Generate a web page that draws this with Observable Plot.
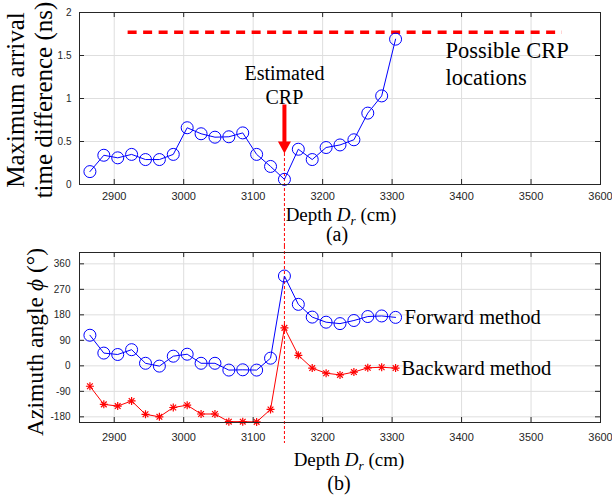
<!DOCTYPE html>
<html>
<head>
<meta charset="utf-8">
<script src="https://cdn.jsdelivr.net/npm/d3@7"></script>
<script src="https://cdn.jsdelivr.net/npm/@observablehq/plot@0.6"></script>
<style>
  body { margin: 0; background: #fff; }
  #chart { position: relative; width: 612px; height: 498px; background: #fff; }
  #chart svg { display: block; overflow: visible; }
</style>
</head>
<body>
<div id="chart"></div>
<script>
// ---------- data ----------
const depth = [2865, 2885, 2905, 2925, 2945, 2965, 2985, 3005, 3025, 3045, 3065, 3085,
               3105, 3125, 3145, 3165, 3185, 3205, 3225, 3245, 3265, 3285, 3305];
const maxDiff = [0.15, 0.34, 0.31, 0.35, 0.29, 0.29, 0.35, 0.66, 0.59, 0.55, 0.555, 0.60,
                 0.35, 0.21, 0.06, 0.41, 0.29, 0.43, 0.46, 0.52, 0.83, 1.03, 1.69];
const forwardAz = [108, 45, 40, 57, 9, -1, 34, 41, 9, 9, -15, -14,
                   -15, 27, 317, 217, 172, 154, 149, 160, 174, 176, 171];
const backwardAz = [-72, -136, -142, -124, -171, -180, -147, -139, -170, -170, -197, -197,
                    -198, -154, 134, 37, -8, -26, -32, -22, -7, -5, -8];
const xTicks = [2900, 3000, 3100, 3200, 3300, 3400, 3500, 3600];
const topYTicks = [0, 0.5, 1, 1.5, 2];
const botYTicks = [-180, -90, 0, 90, 180, 270, 360];
const xDomain = [2850, 3600];
const topYDomain = [0, 2];
const botYDomain = [-200, 400];
const crpDepth = 3145;          // estimated CRP
const arrowTip = 0.36;          // arrow tip value (ns)
const possibleX = [2920, 3545]; // possible CRP locations range
const possibleY = 1.77;
const estLabel = {x: 3145, y: 1.17, text: "Estimated\nCRP"};
const possLabel = {x: 3377, y: 1.42, text: "Possible CRP\nlocations"};

const rows = depth.map((d, i) => ({depth: d, maxDiff: maxDiff[i], forward: forwardAz[i], backward: backwardAz[i]}));

// ---------- styles ----------
const serif = "'Liberation Serif', 'Times New Roman', serif";
const narrow = "'Liberation Sans Narrow', 'Liberation Sans', Arial, sans-serif";
const sans = "'Liberation Sans', Arial, sans-serif";
const axisColor = "#262626";
const gridColor = "#dedede";
const tickLen = 5;
const W = 612, mL = 79, mR = 12;
const innerW = W - mL - mR;

function frameMarks(yTicks, innerH, pad) {
  return [
    Plot.ruleX(xTicks, {insetTop: innerH - tickLen, stroke: axisColor}),
    Plot.ruleX(xTicks, {insetBottom: innerH - tickLen, stroke: axisColor}),
    Plot.ruleY(yTicks, {insetRight: innerW - tickLen, stroke: axisColor}),
    Plot.ruleY(yTicks, {insetLeft: innerW - tickLen, stroke: axisColor}),
    Plot.axisX(xTicks, {tickSize: 0, tickPadding: pad, tickFormat: d => String(d), fontSize: 11, fill: axisColor, label: null}),
    Plot.frame({stroke: axisColor})
  ];
}

function addLabel(svg, {x, y, rotate = 0, size, parts}) {
  const t = d3.select(svg).append("text")
    .attr("transform", `translate(${x},${y}) rotate(${rotate})`)
    .attr("text-anchor", "middle")
    .style("font-family", serif)
    .style("font-size", size + "px")
    .attr("fill", "black");
  for (const p of parts) {
    const ts = t.append("tspan").text(p.t);
    if (p.i) ts.style("font-style", "italic");
    if (p.sub) ts.style("font-size", (size * 0.7) + "px").attr("dy", size * 0.2);
    if (p.unsub) ts.attr("dy", -size * 0.2);
  }
}

function fixFonts(svg) {
  const s = d3.select(svg);
  s.style("font-family", sans);
  s.selectAll('g[aria-label="text"] text').style("font-family", serif);
  s.selectAll('g[aria-label="y-axis tick label"] text').style("font-family", narrow).style("font-size", "10px");
  s.selectAll('g[aria-label="x-axis tick label"] text').style("font-family", sans).style("font-size", "11px");
}

// ---------- top panel ----------
const topH = 246, topMT = 12, topInner = 172;
const topPlot = Plot.plot({
  width: W, height: topH, marginLeft: mL, marginRight: mR, marginTop: topMT, marginBottom: topH - topMT - topInner,
  x: {domain: xDomain, label: null},
  y: {domain: topYDomain, label: null},
  style: {color: axisColor, background: "white", overflow: "visible"},
  marks: [
    Plot.gridX(xTicks, {stroke: gridColor, strokeOpacity: 1}),
    Plot.gridY(topYTicks, {stroke: gridColor, strokeOpacity: 1}),
    Plot.axisY(topYTicks, {tickSize: 0, tickPadding: 8, tickFormat: d => String(d), fontSize: 10, fill: axisColor, label: null}),
    Plot.ruleX([crpDepth], {y1: arrowTip, y2: topYDomain[0], insetBottom: -(topH - topMT - topInner),
      stroke: "red", strokeWidth: 1, strokeDasharray: "3,2"}),
    Plot.ruleY([possibleY], {x1: possibleX[0], x2: possibleX[1], stroke: "red", strokeWidth: 3.5, strokeDasharray: "9,6.5"}),
    Plot.line(rows, {x: "depth", y: "maxDiff", stroke: "blue", strokeWidth: 1}),
    Plot.dot(rows, {x: "depth", y: "maxDiff", r: 6, stroke: "blue", fill: "none", strokeWidth: 1}),
    Plot.vector([crpDepth], {
      x: d => d, y: arrowTip, length: 49, rotate: 0, anchor: "start",
      shape: {draw(ctx, l) {
        const hw = 6.5, hl = 12, sw = 2;
        ctx.moveTo(0, 0); ctx.lineTo(-hw, -hl); ctx.lineTo(-sw, -hl); ctx.lineTo(-sw, -l);
        ctx.lineTo(sw, -l); ctx.lineTo(sw, -hl); ctx.lineTo(hw, -hl); ctx.closePath();
      }},
      fill: "red", stroke: "none"
    }),
    Plot.text([estLabel], {x: "x", y: "y", text: "text", fontFamily: serif, fontSize: 20, lineHeight: 1.2, fill: "black"}),
    Plot.text([possLabel], {x: "x", y: "y", text: "text", textAnchor: "start", fontFamily: serif, fontSize: 22.5, lineHeight: 1.2, fill: "black"}),
    ...frameMarks(topYTicks, topInner, 8)
  ]
});
fixFonts(topPlot);
addLabel(topPlot, {x: 23.5, y: 100, rotate: -90, size: 25, parts: [{t: "Maximum arrival"}]});
addLabel(topPlot, {x: 52, y: 100, rotate: -90, size: 25, parts: [{t: "time difference (ns)"}]});
addLabel(topPlot, {x: 341, y: 221, size: 19, parts: [{t: "Depth "}, {t: "D", i: true}, {t: "r", i: true, sub: true}, {t: " (cm)", unsub: true}]});
addLabel(topPlot, {x: 337, y: 241, size: 20, parts: [{t: "(a)"}]});

// ---------- bottom panel ----------
const botH = 498 - topH, botTop = 252 - topH, botInner = 170;
const botPlot = Plot.plot({
  width: W, height: botH, marginLeft: mL, marginRight: mR, marginTop: botTop, marginBottom: botH - botTop - botInner,
  x: {domain: xDomain, label: null},
  y: {domain: botYDomain, label: null},
  style: {color: axisColor, background: "white", overflow: "visible"},
  marks: [
    Plot.gridX(xTicks, {stroke: gridColor, strokeOpacity: 1}),
    Plot.gridY(botYTicks, {stroke: gridColor, strokeOpacity: 1}),
    Plot.axisY(botYTicks, {tickSize: 0, tickPadding: 9, tickFormat: d => String(d), fontSize: 10, fill: axisColor, label: null}),
    Plot.ruleX([crpDepth], {insetTop: -botTop, insetBottom: -21, stroke: "red", strokeWidth: 1, strokeDasharray: "3,2"}),
    Plot.line(rows, {x: "depth", y: "forward", stroke: "blue", strokeWidth: 1}),
    Plot.dot(rows, {x: "depth", y: "forward", r: 6, stroke: "blue", fill: "none", strokeWidth: 1}),
    Plot.line(rows, {x: "depth", y: "backward", stroke: "red", strokeWidth: 1}),
    Plot.dot(rows, {x: "depth", y: "backward", r: 2.7, symbol: "plus", stroke: "red", strokeWidth: 1.2}),
    Plot.dot(rows, {x: "depth", y: "backward", r: 2.7, symbol: "times", stroke: "red", strokeWidth: 1.2}),
    Plot.text([rows[rows.length - 1]], {x: "depth", y: "forward", text: () => "Forward method", dx: 9, textAnchor: "start",
      fontFamily: serif, fontSize: 20.5, fill: "black"}),
    Plot.text([rows[rows.length - 1]], {x: "depth", y: "backward", text: () => "Backward method", dx: 6, textAnchor: "start",
      fontFamily: serif, fontSize: 20.5, fill: "black"}),
    ...frameMarks(botYTicks, botInner, 11)
  ]
});
fixFonts(botPlot);
addLabel(botPlot, {x: 43, y: 342 - topH, rotate: -90, size: 23.5,
  parts: [{t: "Azimuth angle "}, {t: "\u03d5", i: true}, {t: " (\u00b0)"}]});
addLabel(botPlot, {x: 349, y: 466 - topH, size: 19, parts: [{t: "Depth "}, {t: "D", i: true}, {t: "r", i: true, sub: true}, {t: " (cm)", unsub: true}]});
addLabel(botPlot, {x: 339, y: 490 - topH, size: 20, parts: [{t: "(b)"}]});

const chart = document.getElementById("chart");
chart.append(topPlot, botPlot);
</script>
</body>
</html>
